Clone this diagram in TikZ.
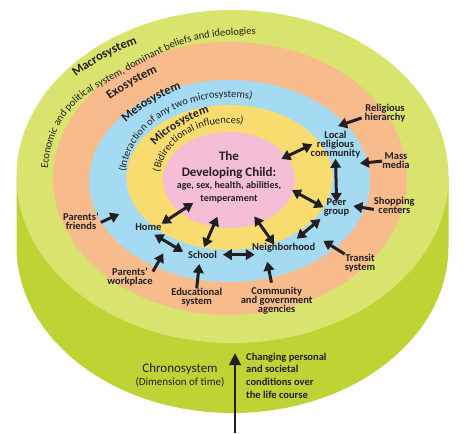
\documentclass[tikz,border=0pt]{standalone}
\usepackage{fontspec}
\setmainfont{Carlito}
\usetikzlibrary{arrows.meta,decorations.text}
\definecolor{macrogreen}{RGB}{216,228,110}
\definecolor{chronogreen}{RGB}{191,211,52}
\definecolor{exoorange}{RGB}{247,187,140}
\definecolor{mesoblue}{RGB}{164,219,242}
\definecolor{microyellow}{RGB}{248,220,112}
\definecolor{childpink}{RGB}{244,190,214}
\definecolor{ink}{RGB}{35,31,32}
\lineskiplimit=-\maxdimen
\newcommand{\bigarc}{\fontsize{12.5}{12.5}\selectfont\bfseries}
\newcommand{\smallarc}{\fontsize{10.5}{10.5}\selectfont}

\begin{document}
\begin{tikzpicture}[x=1pt, y=-1pt,
    lbl/.style={font=\bfseries\fontsize{10.5}{9}\selectfont, text=ink, align=center, inner sep=0pt},
    arr/.style={line width=3pt, ink, -{Triangle[width=10.5pt,length=9pt]}},
    dbl/.style={line width=3pt, ink, {Triangle[width=10.5pt,length=9pt]}-{Triangle[width=10.5pt,length=9pt]}},
    timearrow/.style={line width=2.6pt, ink, -{Triangle[width=11.5pt,length=12pt]}},
    ringtext/.style={decorate, decoration={text along path, text align=left, text color=ink, text={#1}}}]
    \useasboundingbox (0,0) rectangle (465,433);

    \fill [chronogreen] (16.5,177) -- (16.5,246.5) arc [start angle=180, end angle=0, x radius=216, y radius=166.5] -- (448.5,177) -- cycle;
    \fill [macrogreen] (232.5,176.5) circle [x radius=216, y radius=166.5];
    \fill [exoorange] (230,178.5) circle [x radius=177, y radius=136.5];
    \fill [mesoblue] (229.5,181) circle [x radius=140.5, y radius=101];
    \fill [microyellow] (229.5,177.5) circle [x radius=103, y radius=72.5];
    \fill [childpink] (229,180) circle [x radius=66, y radius=48];

    \path [ringtext={|\bigarc|Macrosystem}] (76,77) .. controls (95,62) and (118,50) .. (140,42.5) .. controls (160,36) and (180,31) .. (210,27);
    \path [ringtext={|\smallarc|Economic and political system, dominant beliefs and ideologies}] (48,169) .. controls (50,135) and (65,105) .. (98,88) .. controls (125,74) and (160,50) .. (190,42) .. controls (220,34) and (250,33) .. (300,37);
    \path [ringtext={|\bigarc|Exosystem}] (110,100) .. controls (125,89) and (142,79) .. (159,72) .. controls (170,68) and (180,65) .. (195,62);
    \path [ringtext={|\bigarc|Mesosystem}] (126,123) .. controls (140,109) and (162,95) .. (184,88) .. controls (195,84) and (205,82) .. (220,80);
    \path [ringtext={|\smallarc|(Interaction of any two microsystems)}] (125.75,171.9) arc [start angle=-176, end angle=-50, x radius=104, y radius=80];
    \path [ringtext={|\bfseries\fontsize{12}{12}\selectfont|Microsystem}] (155,146) .. controls (168,132) and (188,119) .. (209,113) .. controls (220,110) and (230,109) .. (245,108);
    \path [ringtext={|\smallarc|(Bidirectional influences)}] (159.7,172.1) arc [start angle=-172, end angle=-40, x radius=70, y radius=57];

    \node [lbl, font=\bfseries\fontsize{10}{12.5}\selectfont] (child) at (229,177) {\fontsize{13}{12.5}\selectfont The\\[3.5pt]\fontsize{13}{12.5}\selectfont Developing Child:\\\fontsize{10}{12.5}\selectfont age, sex, health, abilities,\\\fontsize{10}{12.5}\selectfont temperament};

    \node [lbl] (relhier) at (385,113.3) {Religious\\hierarchy};
    \node [lbl] (lrc) at (335.5,145.1) {Local\\religious\\community};
    \node [lbl] (mass) at (396,161.1) {Mass\\media};
    \node [lbl] (peer) at (336.5,207.4) {Peer\\group};
    \node [lbl] (shop) at (394.3,205.8) {Shopping\\centers};
    \node [lbl] (neigh) at (283.7,248) {Neighborhood};
    \node [lbl] (transit) at (360,263.2) {Transit\\system};
    \node [lbl] (comm) at (276.7,300.4) {Community\\and government\\agencies};
    \node [lbl] (edu) at (196.7,297.6) {Educational\\system};
    \node [lbl] (school) at (202.5,254.6) {School};
    \node [lbl] (home) at (148.3,227.3) {Home};
    \node [lbl] (work) at (130,276.9) {Parents'\\workplace};
    \node [lbl] (friends) at (81,221.6) {Parents'\\friends};

    \node [lbl, font=\fontsize{11}{12.7}\selectfont] (chrono) at (180,375.5) {\fontsize{13}{12.7}\selectfont Chronosystem\\\fontsize{11}{12.7}\selectfont (Dimension of time)};
    \node [lbl, align=left, anchor=west, font=\bfseries\fontsize{10.5}{12.7}\selectfont] (cond) at (246,375.5) {Changing personal\\and societal\\conditions over\\the life course};

    \coordinate (hier-tip) at (338,126);
    \coordinate (mass-tip) at (360,163.3);
    \coordinate (shop-tip) at (353.3,206);
    \coordinate (transit-tip) at (323.3,240.7);
    \coordinate (comm-tip) at (267.3,261.7);
    \coordinate (edu-tip) at (199.3,264);
    \coordinate (work-tip) at (163.3,253.3);
    \coordinate (friends-tip) at (119.3,214);
    \coordinate (time-start) at (235,433);
    \coordinate (time-tip) at (235,353);

    \draw [arr, shorten <=3pt] (relhier.190) -- (hier-tip);
    \draw [arr] (mass.west) -- (mass-tip);
    \draw [arr] (shop.190) -- (shop-tip);
    \draw [arr] (transit.north west) -- (transit-tip);
    \draw [arr, shorten <=4pt] (comm.108) -- (comm-tip);
    \draw [arr] (edu.north) -- (edu-tip);
    \draw [arr] (work.13) -- (work-tip);
    \draw [arr, shorten <=2pt] (friends.-5) -- (friends-tip);
    \draw [timearrow] (time-start) -- (time-tip);

    \draw [dbl, shorten >=-2pt] (child.19) -- (lrc.west);
    \draw [dbl, shorten >=-3.5pt] (lrc.south) -- (peer.north);
    \draw [dbl, shorten <=12pt] (child.-8.5) -- (peer.west);
    \draw [dbl, shorten <=4pt, shorten >=7pt] (peer.south west) -- (neigh.32);
    \draw [dbl, shorten <=16.5pt, shorten >=-1.5pt] (child.-59) -- (neigh.155);
    \draw [dbl, shorten <=5.7pt, shorten >=-2.8pt] (school.east) -- (school.east -| neigh.west);
    \draw [dbl, shorten <=15pt, shorten >=3.8pt] (child.258) -- (school.north);
    \draw [dbl] (home.north east) -- (child.216);
    \draw [dbl, shorten <=7pt, shorten >=5.5pt] (home.south) -- (school.west);
  \end{tikzpicture}
\end{document}
